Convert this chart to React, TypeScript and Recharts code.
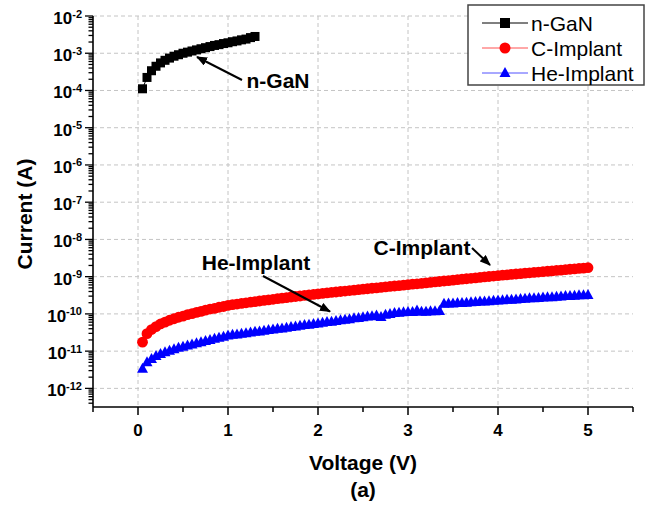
import React from 'react';
import { ScatterChart, Scatter, XAxis, YAxis, CartesianGrid } from 'recharts';

// Voltage (V) sweep points
const voltage = [
  0.05, 0.1, 0.15, 0.2, 0.25, 0.3, 0.35, 0.4, 0.45, 0.5,
  0.55, 0.6, 0.65, 0.7, 0.75, 0.8, 0.85, 0.9, 0.95, 1.0,
  1.05, 1.1, 1.15, 1.2, 1.25, 1.3, 1.35, 1.4, 1.45, 1.5,
  1.55, 1.6, 1.65, 1.7, 1.75, 1.8, 1.85, 1.9, 1.95, 2.0,
  2.05, 2.1, 2.15, 2.2, 2.25, 2.3, 2.35, 2.4, 2.45, 2.5,
  2.55, 2.6, 2.65, 2.7, 2.75, 2.8, 2.85, 2.9, 2.95, 3.0,
  3.05, 3.1, 3.15, 3.2, 3.25, 3.3, 3.35, 3.4, 3.45, 3.5,
  3.55, 3.6, 3.65, 3.7, 3.75, 3.8, 3.85, 3.9, 3.95, 4.0,
  4.05, 4.1, 4.15, 4.2, 4.25, 4.3, 4.35, 4.4, 4.45, 4.5,
  4.55, 4.6, 4.65, 4.7, 4.75, 4.8, 4.85, 4.9, 4.95, 5.0,
];

// Current (A) - n-GaN (0.05 .. 1.3 V)
const nganCurrent = [
  1.11e-4, 2.24e-4, 3.39e-4, 4.47e-4, 5.50e-4, 6.46e-4, 7.41e-4, 8.32e-4, 9.12e-4, 1.00e-3,
  1.07e-3, 1.15e-3, 1.23e-3, 1.32e-3, 1.41e-3, 1.51e-3, 1.62e-3, 1.70e-3, 1.82e-3, 1.91e-3,
  2.04e-3, 2.14e-3, 2.29e-3, 2.40e-3, 2.63e-3, 2.82e-3,
];

// Current (A) - C-Implant
const cImplantCurrent = [
  1.74e-11, 2.95e-11, 3.80e-11, 4.57e-11, 5.37e-11, 6.03e-11, 6.76e-11, 7.41e-11, 8.13e-11, 8.71e-11,
  9.55e-11, 1.02e-10, 1.10e-10, 1.17e-10, 1.26e-10, 1.35e-10, 1.41e-10, 1.51e-10, 1.58e-10, 1.70e-10,
  1.77e-10, 1.84e-10, 1.91e-10, 1.99e-10, 2.06e-10, 2.14e-10, 2.22e-10, 2.30e-10, 2.39e-10, 2.47e-10,
  2.56e-10, 2.65e-10, 2.74e-10, 2.84e-10, 2.93e-10, 3.03e-10, 3.13e-10, 3.23e-10, 3.33e-10, 3.44e-10,
  3.55e-10, 3.66e-10, 3.77e-10, 3.88e-10, 4.00e-10, 4.11e-10, 4.24e-10, 4.36e-10, 4.49e-10, 4.61e-10,
  4.74e-10, 4.88e-10, 5.02e-10, 5.16e-10, 5.31e-10, 5.46e-10, 5.61e-10, 5.77e-10, 5.93e-10, 6.10e-10,
  6.27e-10, 6.44e-10, 6.62e-10, 6.82e-10, 7.01e-10, 7.21e-10, 7.41e-10, 7.64e-10, 7.85e-10, 8.07e-10,
  8.30e-10, 8.55e-10, 8.79e-10, 9.04e-10, 9.29e-10, 9.57e-10, 9.84e-10, 1.01e-9, 1.04e-9, 1.07e-9,
  1.10e-9, 1.12e-9, 1.15e-9, 1.18e-9, 1.21e-9, 1.24e-9, 1.27e-9, 1.30e-9, 1.33e-9, 1.36e-9,
  1.40e-9, 1.43e-9, 1.47e-9, 1.50e-9, 1.54e-9, 1.58e-9, 1.61e-9, 1.66e-9, 1.69e-9, 1.74e-9,
];

// Current (A) - He-Implant
const heImplantCurrent = [
  3.39e-12, 5.01e-12, 6.17e-12, 7.41e-12, 8.32e-12, 9.33e-12, 1.02e-11, 1.12e-11, 1.23e-11, 1.32e-11,
  1.41e-11, 1.51e-11, 1.62e-11, 1.74e-11, 1.86e-11, 2.00e-11, 2.14e-11, 2.29e-11, 2.45e-11, 2.63e-11,
  2.75e-11, 2.82e-11, 2.95e-11, 3.02e-11, 3.16e-11, 3.31e-11, 3.39e-11, 3.55e-11, 3.72e-11, 3.80e-11,
  3.98e-11, 4.07e-11, 4.27e-11, 4.47e-11, 4.57e-11, 4.79e-11, 5.01e-11, 5.13e-11, 5.37e-11, 5.50e-11,
  5.75e-11, 6.03e-11, 6.17e-11, 6.46e-11, 6.76e-11, 6.92e-11, 7.24e-11, 7.59e-11, 7.76e-11, 8.13e-11,
  8.51e-11, 8.71e-11, 9.12e-11, 8.32e-11, 9.55e-11, 1.00e-10, 1.05e-10, 1.07e-10, 1.10e-10, 1.12e-10,
  1.12e-10, 1.23e-10, 1.15e-10, 1.15e-10, 1.17e-10, 1.17e-10, 1.20e-10, 1.86e-10, 1.91e-10, 1.91e-10,
  1.95e-10, 1.95e-10, 2.00e-10, 2.04e-10, 2.09e-10, 2.14e-10, 2.14e-10, 2.19e-10, 2.24e-10, 2.29e-10,
  2.34e-10, 2.40e-10, 2.40e-10, 2.45e-10, 2.51e-10, 2.57e-10, 2.63e-10, 2.63e-10, 2.69e-10, 2.75e-10,
  2.82e-10, 2.82e-10, 2.88e-10, 2.95e-10, 3.02e-10, 3.02e-10, 3.09e-10, 3.16e-10, 3.16e-10, 3.24e-10,
];

const seriesNames = ['n-GaN', 'C-Implant', 'He-Implant'];
const xMajorTicks = [0, 1, 2, 3, 4, 5];
const xMinorTicks = [-0.5, 0.5, 1.5, 2.5, 3.5, 4.5, 5.5];
const yDecades = [1e-12, 1e-11, 1e-10, 1e-9, 1e-8, 1e-7, 1e-6, 1e-5, 1e-4, 1e-3, 1e-2];
const yMinorMultipliers = [2, 3, 4, 5, 6, 7, 8, 9];
const xDomain = [-0.5, 5.5];
const yDomain = [3.1623e-13, 1e-2];

const FONT = '"Liberation Sans", Arial, Helvetica, sans-serif';

const nganData = nganCurrent.map((i, k) => ({ v: voltage[k], i }));
const cData = cImplantCurrent.map((i, k) => ({ v: voltage[k], i }));
const heData = heImplantCurrent.map((i, k) => ({ v: voltage[k], i }));

const xTicks = [...xMinorTicks, ...xMajorTicks].sort((a, b) => a - b);
const yTicks = (() => {
  const out: number[] = [];
  const low = [1e-13, ...yDecades];
  low.forEach((d) => {
    out.push(d);
    yMinorMultipliers.forEach((m) => out.push(+(d * m).toPrecision(3)));
  });
  return out.filter((t) => t >= yDomain[0] && t <= yDomain[1]);
})();

const isDecade = (v: number) => {
  const e = Math.round(Math.log10(v));
  return Math.abs(v - Math.pow(10, e)) < v * 1e-6;
};

const XTick = (props: any) => {
  const { x, y, payload } = props;
  const major = xMajorTicks.includes(payload.value);
  return (
    <g>
      <line x1={x} x2={x} y1={y} y2={y + (major ? 8 : 5)} stroke="#000" strokeWidth={1.5} />
      {major && (
        <text x={x} y={y + 29} textAnchor="middle" fontFamily={FONT} fontWeight="bold" fontSize={17} fill="#000">
          {payload.value}
        </text>
      )}
    </g>
  );
};

const YTick = (props: any) => {
  const { x, y, payload } = props;
  const v = payload.value;
  const major = isDecade(v);
  const exp = Math.round(Math.log10(v));
  return (
    <g>
      <line x1={x} x2={x - (major ? 8 : 4.5)} y1={y} y2={y} stroke="#000" strokeWidth={1.3} />
      {major && (
        <text x={x - 11} y={y + 8} textAnchor="end" fontFamily={FONT} fontWeight="bold" fill="#000">
          <tspan fontSize={17}>10</tspan>
          <tspan fontSize={11} dy={-6.5}>{exp}</tspan>
        </text>
      )}
    </g>
  );
};

const SquareDot = (p: any) =>
  p.cx == null ? <g /> : <rect x={p.cx - 4.5} y={p.cy - 4.5} width={9} height={9} fill="#000" />;
const CircleDot = (p: any) =>
  p.cx == null ? <g /> : <circle cx={p.cx} cy={p.cy} r={5.4} fill="#ff0000" />;
const TriangleDot = (p: any) =>
  p.cx == null ? (
    <g />
  ) : (
    <polygon
      points={`${p.cx},${p.cy - 6} ${p.cx - 5.5},${p.cy + 4} ${p.cx + 5.5},${p.cy + 4}`}
      fill="#0000ff"
    />
  );

const Overlay = () => (
  <svg
    width={654}
    height={506}
    style={{ position: 'absolute', left: 0, top: 0, pointerEvents: 'none' }}
  >
    <defs>
      <marker id="ah" markerWidth="11" markerHeight="9" refX="10" refY="4.5" orient="auto" markerUnits="userSpaceOnUse">
        <path d="M0,0 L11,4.5 L0,9 z" fill="#000" />
      </marker>
    </defs>
    {/* Legend */}
    <rect x={468} y={5} width={176} height={80} fill="#fff" stroke="#444" strokeWidth={1.5} />
    <line x1={482} x2={528} y1={23} y2={23} stroke="#000" strokeWidth={1} />
    <rect x={500} y={18} width={10} height={10} fill="#000" />
    <text x={531} y={30.5} fontFamily={FONT} fontSize={21} fill="#000">{seriesNames[0]}</text>
    <line x1={482} x2={528} y1={48} y2={48} stroke="#ff5050" strokeWidth={1} />
    <circle cx={505} cy={48} r={5.5} fill="#ff0000" />
    <text x={531} y={55.5} fontFamily={FONT} fontSize={21} fill="#000">{seriesNames[1]}</text>
    <line x1={482} x2={528} y1={73} y2={73} stroke="#5050ff" strokeWidth={1} />
    <polygon points="505,67 499.5,77 510.5,77" fill="#0000ff" />
    <text x={531} y={80.5} fontFamily={FONT} fontSize={21} fill="#000">{seriesNames[2]}</text>

    {/* Annotations */}
    <text x={278} y={88} textAnchor="middle" fontFamily={FONT} fontWeight="bold" fontSize={21} fill="#000">n-GaN</text>
    <line x1={242} y1={80} x2={197} y2={57} stroke="#000" strokeWidth={2} markerEnd="url(#ah)" />
    <text x={256} y={270} textAnchor="middle" fontFamily={FONT} fontWeight="bold" fontSize={21} fill="#000">He-Implant</text>
    <line x1={263} y1={276} x2={330} y2={311.5} stroke="#000" strokeWidth={2} markerEnd="url(#ah)" />
    <text x={422} y={255} textAnchor="middle" fontFamily={FONT} fontWeight="bold" fontSize={21} fill="#000">C-Implant</text>
    <line x1={472} y1={248} x2={490} y2={265} stroke="#000" strokeWidth={2} markerEnd="url(#ah)" />

    {/* Axis titles */}
    <text x={363} y={470} textAnchor="middle" fontFamily={FONT} fontWeight="bold" fontSize={21} fill="#000">Voltage (V)</text>
    <text x={363} y={497} textAnchor="middle" fontFamily={FONT} fontWeight="bold" fontSize={21} fill="#000">(a)</text>
    <text
      x={0}
      y={0}
      transform="translate(32,214) rotate(-90)"
      textAnchor="middle"
      fontFamily={FONT}
      fontWeight="bold"
      fontSize={21}
      fill="#000"
    >
      Current (A)
    </text>
  </svg>
);

export default function App() {
  return (
    <div style={{ position: 'absolute', left: 0, top: 0, width: 654, height: 506, background: '#fff' }}>
      <ScatterChart width={654} height={506} margin={{ top: 16, right: 21, bottom: 0, left: 0 }}>
        <CartesianGrid
          stroke="#c4c4c4"
          strokeDasharray="4 3"
          horizontalValues={yDecades}
          verticalValues={xMajorTicks}
        />
        <XAxis
          type="number"
          dataKey="v"
          domain={xDomain}
          ticks={xTicks}
          interval={0}
          height={99}
          tickSize={0}
          tickMargin={0}
          tickLine={false}
          tick={<XTick />}
          axisLine={{ stroke: '#000', strokeWidth: 1.6 }}
          allowDataOverflow
        />
        <YAxis
          type="number"
          dataKey="i"
          scale="log"
          domain={yDomain}
          ticks={yTicks}
          interval={0}
          width={93}
          tickSize={0}
          tickMargin={0}
          tickLine={false}
          tick={<YTick />}
          axisLine={{ stroke: '#000', strokeWidth: 1.6 }}
          allowDataOverflow
        />
        <Scatter
          name={seriesNames[0]}
          data={nganData}
          shape={SquareDot}
          line={{ stroke: '#000', strokeWidth: 1 }}
          isAnimationActive={false}
        />
        <Scatter
          name={seriesNames[1]}
          data={cData}
          shape={CircleDot}
          line={{ stroke: '#ff0000', strokeWidth: 1 }}
          isAnimationActive={false}
        />
        <Scatter
          name={seriesNames[2]}
          data={heData}
          shape={TriangleDot}
          line={{ stroke: '#0000ff', strokeWidth: 1 }}
          isAnimationActive={false}
        />
      </ScatterChart>
      <Overlay />
    </div>
  );
}
